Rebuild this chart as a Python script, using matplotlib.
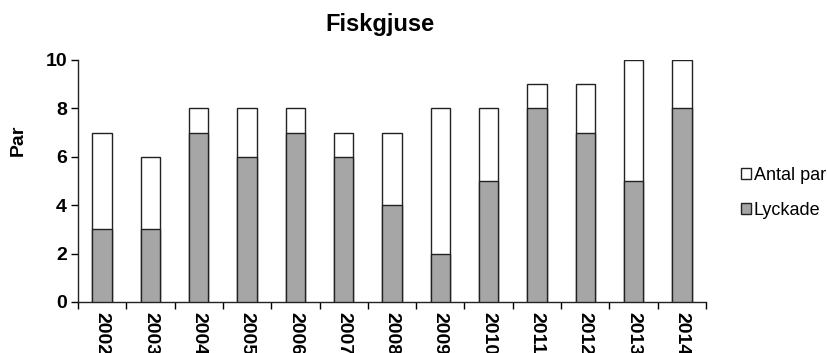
import matplotlib
matplotlib.use("Agg")
import matplotlib.pyplot as plt
import numpy as np

plt.rcParams['font.family'] = ['Liberation Sans', 'DejaVu Sans']

years = ['2002', '2003', '2004', '2005', '2006', '2007', '2008',
         '2009', '2010', '2011', '2012', '2013', '2014']
antal_par = [7, 6, 8, 8, 8, 7, 7, 8, 8, 9, 9, 10, 10]
lyckade = [3, 3, 7, 6, 7, 6, 4, 2, 5, 8, 7, 5, 8]

W, H = 827, 353
fig = plt.figure(figsize=(W / 100, H / 100), dpi=100)
ax = fig.add_axes([78 / W, 1 - 302 / H, (706 - 78) / W, (302 - 60) / H])

x = np.arange(len(years))
bw = 0.4
ax.bar(x, antal_par, width=bw, color='white', edgecolor='#222222',
       linewidth=1.0, label='Antal par', zorder=2)
ax.bar(x, lyckade, width=bw, color='#a6a6a6', edgecolor='#222222',
       linewidth=1.0, label='Lyckade', zorder=3)

ax.set_xlim(-0.5, len(years) - 0.5)
ax.set_ylim(0, 10)
ax.set_yticks(range(0, 11, 2))
ax.tick_params(axis='y', labelsize=14, length=5, width=1, pad=3)
for lab in ax.get_yticklabels():
    lab.set_fontweight('bold')

ax.set_xticks(x)
ax.set_xticklabels(years, rotation=270, fontsize=14, fontweight='bold')
ax.tick_params(axis='x', which='major', length=0, pad=7)
ax.set_xticks(np.arange(-0.5, len(years), 1.0), minor=True)
ax.tick_params(axis='x', which='minor', length=5, width=1)

for s in ['top', 'right']:
    ax.spines[s].set_visible(False)
for s in ['left', 'bottom']:
    ax.spines[s].set_color('#222222')
    ax.spines[s].set_linewidth(1.0)

fig.text(18 / W, 1 - 140 / H, 'Par', ha='center', va='center',
         rotation=90, fontsize=14, fontweight='bold')

fig.text(380 / W, 1 - 25 / H, 'Fiskgjuse', ha='center', va='center',
         fontsize=17, fontweight='bold')

handles, labels = ax.get_legend_handles_labels()
fig.legend(handles, labels, loc='upper left',
           bbox_to_anchor=(734 / W, 1 - 160 / H), frameon=False,
           fontsize=13, handlelength=0.55, handleheight=0.55,
           handletextpad=0.15, labelspacing=1.0, borderaxespad=0)

fig.savefig('out.png', dpi=100)
